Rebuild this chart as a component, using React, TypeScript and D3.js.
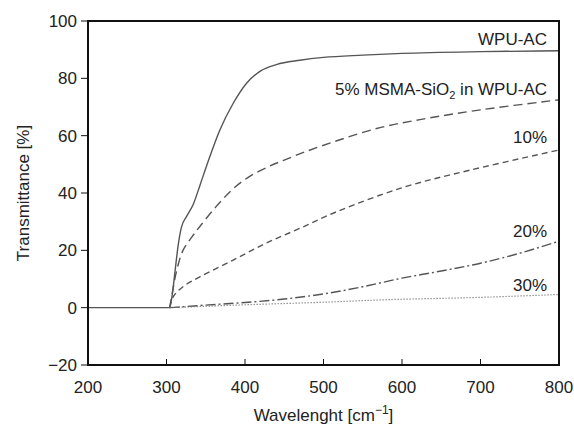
import React from "react";
import * as d3 from "d3";

const wpuX = [200, 300, 304, 308, 311, 315, 319, 326, 334, 343, 353, 368, 385, 402, 420, 440, 470, 500, 550, 600, 700, 800];
const wpuY = [0, 0, 0, 6, 13, 22, 28, 32, 36, 43, 51, 62, 71.3, 78.3, 82.6, 84.8, 86.3, 87.3, 88.1, 88.7, 89.3, 89.6];

const p5X = [304, 308, 313, 321, 332, 343, 364, 385, 406, 430, 450, 478, 520, 572, 623, 700, 800];
const p5Y = [0, 6, 13, 20, 24.5, 28.5, 35.5, 41.5, 45.8, 49.2, 51.5, 54.5, 58.5, 62.8, 65.6, 69, 72.5];

const p10X = [304, 309, 321, 343, 385, 427, 470, 517, 602, 687, 800];
const p10Y = [0, 4, 7.3, 10.8, 16.6, 22.5, 27.7, 33.5, 42, 48, 55];

const p20X = [304, 320, 350, 400, 450, 500, 550, 600, 650, 700, 750, 800];
const p20Y = [0, 0.3, 0.9, 1.8, 3, 4.8, 7.3, 10.3, 12.8, 15.5, 19, 23.2];

const p30X = [304, 400, 500, 572, 700, 800];
const p30Y = [0, 1, 1.9, 2.7, 3.6, 4.6];

const xTicks = [200, 300, 400, 500, 600, 700, 800];
const yTicks = [-20, 0, 20, 40, 60, 80, 100];

const W = 574, H = 427;
const L = 88, R = 559, T = 21, B = 365;

export default function App() {
  const x = d3.scaleLinear().domain([200, 800]).range([L, R]);
  const y = d3.scaleLinear().domain([-20, 100]).range([B, T]);
  const line = (xs: number[], ys: number[]) =>
    d3.line<number>().x((_, i) => x(xs[i])).y((v) => y(v)).curve(d3.curveMonotoneX)(ys) || "";
  const smooth = (xs: number[], ys: number[]) =>
    d3.line<number>().x((_, i) => x(xs[i])).y((v) => y(v)).curve(d3.curveCatmullRom.alpha(0.5))(ys) || "";
  const font = "'Liberation Sans', Arial, sans-serif";
  const fs = 17;
  const labelX = 547;
  return (
    <svg width={W} height={H} style={{ position: "absolute", left: 0, top: 0 }} fontFamily={font}>
      <rect x={0} y={0} width={W} height={H} fill="#fff" />
      <path d={line(wpuX, wpuY)} fill="none" stroke="#555" strokeWidth={1.4} />
      <path d={smooth(p5X, p5Y)} fill="none" stroke="#555" strokeWidth={1.4} strokeDasharray="9,5" />
      <path d={smooth(p10X, p10Y)} fill="none" stroke="#555" strokeWidth={1.4} strokeDasharray="6,4" />
      <path d={line(p20X, p20Y)} fill="none" stroke="#555" strokeWidth={1.4} strokeDasharray="10,3,2,3" />
      <path d={line(p30X, p30Y)} fill="none" stroke="#777" strokeWidth={1.2} strokeDasharray="1.2,1.8" />
      <rect x={L} y={T} width={R - L} height={B - T} fill="none" stroke="#111" strokeWidth={2} />
      {yTicks.map((t) => (
        <g key={"y" + t}>
          <line x1={L - 7} x2={L} y1={y(t)} y2={y(t)} stroke="#111" strokeWidth={1} />
          <text x={77} y={y(t) + 6} textAnchor="end" fontSize={fs} fill="#222">
            {t < 0 ? "\u2212" + Math.abs(t) : t}
          </text>
        </g>
      ))}
      {xTicks.map((t) => (
        <g key={"x" + t}>
          <line x1={x(t)} x2={x(t)} y1={B} y2={B - 6} stroke="#111" strokeWidth={1} />
          <text x={x(t)} y={393} textAnchor="middle" fontSize={fs} fill="#222">
            {t}
          </text>
        </g>
      ))}
      <text x={(L + R) / 2} y={421} textAnchor="middle" fontSize={fs} fill="#222">
        Wavelenght [cm
        <tspan dy={-7} fontSize={12}>{"\u22121"}</tspan>
        <tspan dy={7}>]</tspan>
      </text>
      <text
        transform={`translate(29,${(T + B) / 2}) rotate(-90)`}
        textAnchor="middle"
        fontSize={fs}
        fill="#222"
      >
        Transmittance [%]
      </text>
      <text x={labelX} y={45} textAnchor="end" fontSize={fs} fill="#222">WPU-AC</text>
      <text x={labelX} y={95} textAnchor="end" fontSize={fs} fill="#222">
        5% MSMA-SiO<tspan dy={4} fontSize={11}>2</tspan>
        <tspan dy={-4}> in WPU-AC</tspan>
      </text>
      <text x={labelX} y={143} textAnchor="end" fontSize={fs} fill="#222">10%</text>
      <text x={labelX} y={237} textAnchor="end" fontSize={fs} fill="#222">20%</text>
      <text x={labelX} y={291} textAnchor="end" fontSize={fs} fill="#222">30%</text>
    </svg>
  );
}
